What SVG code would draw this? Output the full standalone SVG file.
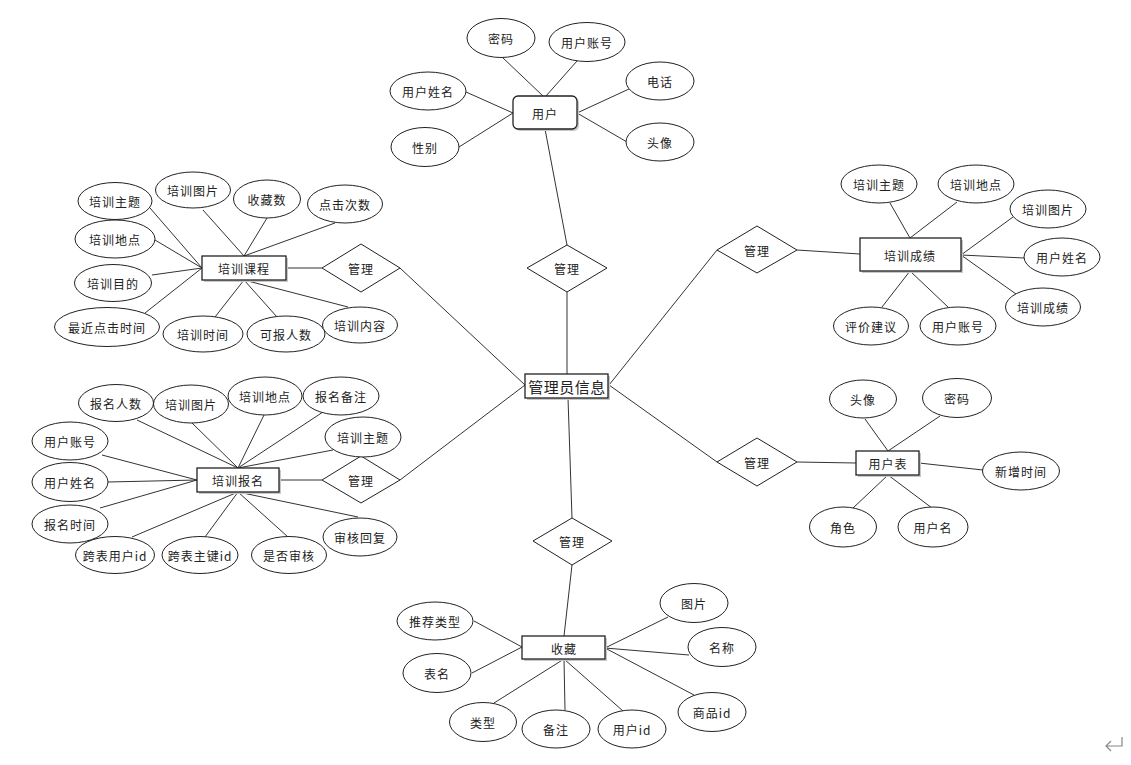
<svg xmlns="http://www.w3.org/2000/svg" width="1131" height="765" viewBox="0 0 1131 765">
<style>
.e{fill:#fff;stroke:#222;stroke-width:1}
.r{fill:#fff;stroke:#222;stroke-width:1.3}
.sh{fill:#c8c8c8;stroke:none}
.d{fill:#fff;stroke:#222;stroke-width:1}
.t{font-family:"Noto Sans CJK SC","Microsoft YaHei",sans-serif;font-size:12px;fill:#222;text-anchor:middle;dominant-baseline:central;letter-spacing:1px}
.big{font-size:15px;letter-spacing:0.5px}
#conn line{stroke:#333;stroke-width:1}
</style>
<rect width="1131" height="765" fill="#fff"/>
<g id="conn">
<!-- center -->
<line x1="567" y1="292" x2="567" y2="374"/>
<line x1="567" y1="245" x2="545" y2="129"/>
<line x1="400" y1="268" x2="525" y2="385"/>
<line x1="400" y1="480" x2="525" y2="385"/>
<line x1="609" y1="385" x2="717" y2="250"/>
<line x1="609" y1="385" x2="717" y2="462"/>
<line x1="568" y1="398" x2="572" y2="518"/>
<!-- user -->
<line x1="502" y1="57" x2="543" y2="96"/>
<line x1="577" y1="61" x2="546" y2="96"/>
<line x1="466" y1="92" x2="513" y2="113"/>
<line x1="459" y1="147" x2="513" y2="113"/>
<line x1="629" y1="89" x2="577" y2="113"/>
<line x1="627" y1="142" x2="577" y2="113"/>
<!-- course -->
<line x1="286" y1="268" x2="322" y2="268"/>
<line x1="150" y1="208" x2="202" y2="268"/>
<line x1="155" y1="240" x2="202" y2="268"/>
<line x1="152" y1="275" x2="202" y2="268"/>
<line x1="145" y1="313" x2="202" y2="268"/>
<line x1="203" y1="210" x2="244" y2="256"/>
<line x1="267" y1="218" x2="244" y2="256"/>
<line x1="335" y1="223" x2="244" y2="256"/>
<line x1="215" y1="317" x2="244" y2="280"/>
<line x1="277" y1="317" x2="244" y2="280"/>
<line x1="348" y1="307" x2="244" y2="280"/>
<!-- signup -->
<line x1="279" y1="480" x2="322" y2="480"/>
<line x1="137" y1="420" x2="238" y2="468"/>
<line x1="192" y1="423" x2="238" y2="468"/>
<line x1="264" y1="415" x2="238" y2="468"/>
<line x1="323" y1="412" x2="238" y2="468"/>
<line x1="333" y1="450" x2="238" y2="468"/>
<line x1="102" y1="455" x2="197" y2="480"/>
<line x1="108" y1="482" x2="197" y2="480"/>
<line x1="100" y1="508" x2="197" y2="480"/>
<line x1="132" y1="537" x2="238" y2="492"/>
<line x1="205" y1="537" x2="238" y2="492"/>
<line x1="288" y1="537" x2="238" y2="492"/>
<line x1="358" y1="517" x2="238" y2="492"/>
<!-- score -->
<line x1="797" y1="250" x2="860" y2="254"/>
<line x1="890" y1="203" x2="910" y2="238"/>
<line x1="957" y1="202" x2="910" y2="238"/>
<line x1="1013" y1="217" x2="961" y2="255"/>
<line x1="1024" y1="258" x2="961" y2="255"/>
<line x1="1016" y1="294" x2="961" y2="255"/>
<line x1="882" y1="307" x2="910" y2="271"/>
<line x1="948" y1="307" x2="910" y2="271"/>
<!-- user table -->
<line x1="797" y1="462" x2="856" y2="463"/>
<line x1="865" y1="419" x2="888" y2="451"/>
<line x1="940" y1="416" x2="888" y2="451"/>
<line x1="983" y1="470" x2="919" y2="463"/>
<line x1="853" y1="508" x2="888" y2="475"/>
<line x1="932" y1="508" x2="888" y2="475"/>
<!-- favorite -->
<line x1="572" y1="565" x2="564" y2="636"/>
<line x1="474" y1="621" x2="522" y2="647"/>
<line x1="472" y1="673" x2="522" y2="647"/>
<line x1="494" y1="703" x2="564" y2="659"/>
<line x1="565" y1="710" x2="564" y2="659"/>
<line x1="623" y1="711" x2="564" y2="659"/>
<line x1="694" y1="695" x2="605" y2="648"/>
<line x1="689" y1="655" x2="605" y2="648"/>
<line x1="668" y1="617" x2="605" y2="648"/>
</g>

<g id="center"><rect class="sh" x="527" y="376" width="83" height="24"/><rect class="r" x="525" y="374" width="83" height="24"/><text class="t big" x="567" y="386">管理员信息</text></g>

<g id="rel-top"><polygon class="d" points="567,245 607,268 567,292 527,268"/><text class="t" x="567" y="268">管理</text></g>
<g id="rel-course"><polygon class="d" points="361,244 400,268 361,292 322,268"/><text class="t" x="361" y="268">管理</text></g>
<g id="rel-signup"><polygon class="d" points="361,456 400,480 361,503 322,480"/><text class="t" x="361" y="480">管理</text></g>
<g id="rel-score"><polygon class="d" points="757,226 797,250 757,273 717,250"/><text class="t" x="757" y="250">管理</text></g>
<g id="rel-usertable"><polygon class="d" points="757,438 797,462 757,486 717,462"/><text class="t" x="757" y="462">管理</text></g>
<g id="rel-fav"><polygon class="d" points="572,518 612,541 572,565 533,541"/><text class="t" x="572" y="541">管理</text></g>

<g id="user"><rect class="sh" x="515" y="98" width="64" height="33" rx="5"/><rect class="r" x="513" y="96" width="64" height="33" rx="5"/><text class="t" x="545" y="113">用户</text></g>
<g id="u-pwd"><ellipse class="e" cx="501" cy="38" rx="34" ry="19.5"/><text class="t" x="501" y="38">密码</text></g>
<g id="u-acc"><ellipse class="e" cx="587" cy="42" rx="38" ry="19.5"/><text class="t" x="587" y="42">用户账号</text></g>
<g id="u-tel"><ellipse class="e" cx="660" cy="81" rx="34" ry="19"/><text class="t" x="660" y="81">电话</text></g>
<g id="u-name"><ellipse class="e" cx="428" cy="91" rx="38" ry="19"/><text class="t" x="428" y="91">用户姓名</text></g>
<g id="u-sex"><ellipse class="e" cx="425" cy="147" rx="34" ry="19.5"/><text class="t" x="425" y="147">性别</text></g>
<g id="u-avatar"><ellipse class="e" cx="660" cy="142" rx="34" ry="19"/><text class="t" x="660" y="142">头像</text></g>

<g id="course"><rect class="sh" x="204" y="258" width="84" height="24"/><rect class="r" x="202" y="256" width="84" height="24"/><text class="t" x="244" y="268">培训课程</text></g>
<g id="c1"><ellipse class="e" cx="115" cy="201" rx="37" ry="18.5"/><text class="t" x="115" y="201">培训主题</text></g>
<g id="c2"><ellipse class="e" cx="193" cy="190" rx="37.5" ry="18"/><text class="t" x="193" y="190">培训图片</text></g>
<g id="c3"><ellipse class="e" cx="267" cy="199" rx="33.5" ry="19"/><text class="t" x="267" y="199">收藏数</text></g>
<g id="c4"><ellipse class="e" cx="345" cy="204" rx="37.5" ry="19"/><text class="t" x="345" y="204">点击次数</text></g>
<g id="c5"><ellipse class="e" cx="115" cy="239" rx="40" ry="19"/><text class="t" x="115" y="239">培训地点</text></g>
<g id="c6"><ellipse class="e" cx="113" cy="283" rx="38.5" ry="18.5"/><text class="t" x="113" y="283">培训目的</text></g>
<g id="c7"><ellipse class="e" cx="107" cy="327" rx="52.5" ry="19.5"/><text class="t" x="107" y="327">最近点击时间</text></g>
<g id="c8"><ellipse class="e" cx="203" cy="334" rx="40" ry="18"/><text class="t" x="203" y="334">培训时间</text></g>
<g id="c9"><ellipse class="e" cx="286" cy="334" rx="39" ry="18"/><text class="t" x="286" y="334">可报人数</text></g>
<g id="c10"><ellipse class="e" cx="360" cy="325" rx="37.5" ry="18"/><text class="t" x="360" y="325">培训内容</text></g>

<g id="signup"><rect class="sh" x="199" y="470" width="82" height="24"/><rect class="r" x="197" y="468" width="82" height="24"/><text class="t" x="238" y="480">培训报名</text></g>
<g id="s1"><ellipse class="e" cx="116" cy="403" rx="37.5" ry="18.5"/><text class="t" x="116" y="403">报名人数</text></g>
<g id="s2"><ellipse class="e" cx="191" cy="404" rx="37.5" ry="19"/><text class="t" x="191" y="404">培训图片</text></g>
<g id="s3"><ellipse class="e" cx="265" cy="396" rx="37" ry="19"/><text class="t" x="265" y="396">培训地点</text></g>
<g id="s4"><ellipse class="e" cx="341" cy="396" rx="38" ry="19"/><text class="t" x="341" y="396">报名备注</text></g>
<g id="s5"><ellipse class="e" cx="363" cy="437" rx="38" ry="20"/><text class="t" x="363" y="437">培训主题</text></g>
<g id="s6"><ellipse class="e" cx="70" cy="441" rx="38" ry="19"/><text class="t" x="70" y="441">用户账号</text></g>
<g id="s7"><ellipse class="e" cx="70" cy="482" rx="38" ry="19.5"/><text class="t" x="70" y="482">用户姓名</text></g>
<g id="s8"><ellipse class="e" cx="70" cy="524" rx="38" ry="19"/><text class="t" x="70" y="524">报名时间</text></g>
<g id="s9"><ellipse class="e" cx="115" cy="555" rx="39.5" ry="18.5"/><text class="t" x="115" y="555">跨表用户id</text></g>
<g id="s10"><ellipse class="e" cx="200" cy="555" rx="38" ry="18.5"/><text class="t" x="200" y="555">跨表主键id</text></g>
<g id="s11"><ellipse class="e" cx="289" cy="555" rx="37.5" ry="18.5"/><text class="t" x="289" y="555">是否审核</text></g>
<g id="s12"><ellipse class="e" cx="360" cy="537" rx="37" ry="19"/><text class="t" x="360" y="537">审核回复</text></g>

<g id="score"><rect class="sh" x="862" y="240" width="101" height="33"/><rect class="r" x="860" y="238" width="101" height="33"/><text class="t" x="910" y="255">培训成绩</text></g>
<g id="g1"><ellipse class="e" cx="879" cy="184" rx="38" ry="19"/><text class="t" x="879" y="184">培训主题</text></g>
<g id="g2"><ellipse class="e" cx="976" cy="184" rx="38" ry="19"/><text class="t" x="976" y="184">培训地点</text></g>
<g id="g3"><ellipse class="e" cx="1048" cy="209" rx="38" ry="19"/><text class="t" x="1048" y="209">培训图片</text></g>
<g id="g4"><ellipse class="e" cx="1062" cy="257" rx="38" ry="19"/><text class="t" x="1062" y="257">用户姓名</text></g>
<g id="g5"><ellipse class="e" cx="1043" cy="307" rx="37.5" ry="19"/><text class="t" x="1043" y="307">培训成绩</text></g>
<g id="g6"><ellipse class="e" cx="871" cy="326" rx="37.5" ry="19"/><text class="t" x="871" y="326">评价建议</text></g>
<g id="g7"><ellipse class="e" cx="958" cy="326" rx="38" ry="19"/><text class="t" x="958" y="326">用户账号</text></g>

<g id="usertable"><rect class="sh" x="858" y="453" width="63" height="24"/><rect class="r" x="856" y="451" width="63" height="24"/><text class="t" x="888" y="463">用户表</text></g>
<g id="t1"><ellipse class="e" cx="863" cy="399" rx="33.5" ry="19"/><text class="t" x="863" y="399">头像</text></g>
<g id="t2"><ellipse class="e" cx="957" cy="398" rx="34.5" ry="19.5"/><text class="t" x="957" y="398">密码</text></g>
<g id="t3"><ellipse class="e" cx="1021" cy="471" rx="38.5" ry="19"/><text class="t" x="1021" y="471">新增时间</text></g>
<g id="t4"><ellipse class="e" cx="843" cy="527" rx="33.5" ry="20"/><text class="t" x="843" y="527">角色</text></g>
<g id="t5"><ellipse class="e" cx="933" cy="527" rx="35" ry="20"/><text class="t" x="933" y="527">用户名</text></g>

<g id="fav"><rect class="sh" x="524" y="638" width="83" height="23"/><rect class="r" x="522" y="636" width="83" height="23"/><text class="t" x="564" y="648">收藏</text></g>
<g id="f1"><ellipse class="e" cx="435" cy="621" rx="38" ry="19"/><text class="t" x="435" y="621">推荐类型</text></g>
<g id="f2"><ellipse class="e" cx="437" cy="673" rx="34" ry="19.5"/><text class="t" x="437" y="673">表名</text></g>
<g id="f3"><ellipse class="e" cx="483" cy="722" rx="33.5" ry="19.5"/><text class="t" x="483" y="722">类型</text></g>
<g id="f4"><ellipse class="e" cx="556" cy="729" rx="34" ry="19"/><text class="t" x="556" y="729">备注</text></g>
<g id="f5"><ellipse class="e" cx="632" cy="729" rx="34" ry="19"/><text class="t" x="632" y="729">用户id</text></g>
<g id="f6"><ellipse class="e" cx="712" cy="712" rx="34" ry="19.5"/><text class="t" x="712" y="712">商品id</text></g>
<g id="f7"><ellipse class="e" cx="722" cy="647" rx="34" ry="19.5"/><text class="t" x="722" y="647">名称</text></g>
<g id="f8"><ellipse class="e" cx="694" cy="603" rx="34" ry="19.5"/><text class="t" x="694" y="603">图片</text></g>

<path d="M1122,737 V746 H1106 M1111,741 L1106,746 L1111,751" fill="none" stroke="#888" stroke-width="1.2"/>
</svg>
